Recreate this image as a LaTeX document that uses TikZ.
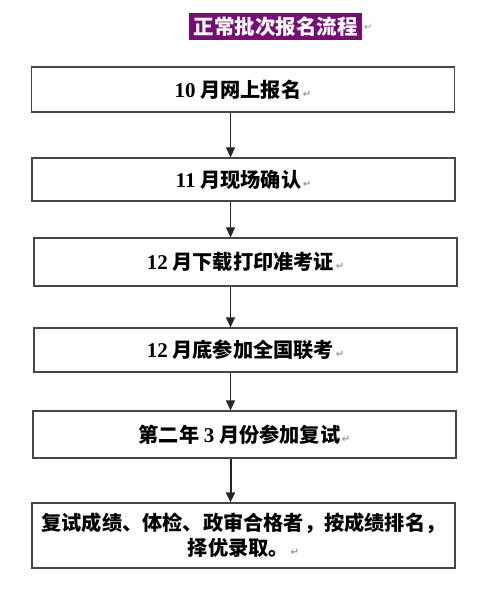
\documentclass[tikz,border=0pt]{standalone}
\usepackage{fontspec}
\usepackage{xcolor}
\usepackage{tikz}
\usetikzlibrary{arrows.meta, positioning, calc}
\newfontfamily\cjk{Noto Sans CJK SC}
\newfontfamily\numfont{Liberation Serif}
\newfontfamily\markfont{DejaVu Sans}
\definecolor{titlepurple}{RGB}{118, 12, 118}
\definecolor{boxline}{RGB}{70, 70, 70}
\definecolor{markgray}{RGB}{150, 150, 150}
\newcommand{\pmark}{{\markfont\fontsize{10}{10}\selectfont\color{markgray}\,↵}}
\newcommand{\num}[1]{{\numfont\bfseries\fontsize{21}{25}\selectfont #1}}
\tikzset{
    stagebox/.style={draw=boxline, line width=1.2pt, rectangle, minimum width=423pt, inner sep=0pt, align=center,
        font=\cjk\bfseries\fontsize{20.2}{25}\selectfont},
    titlebox/.style={rectangle, fill=titlepurple, text=white, minimum width=173pt, minimum height=27pt, inner sep=0pt,
        font=\cjk\bfseries\fontsize{20.5}{24}\selectfont},
    flowarrow/.style={-{Triangle[length=10pt, width=9pt]}, line width=1pt, draw=black!85},
    bigarrow/.style={flowarrow, line width=2pt},
}
\begin{document}
\begin{tikzpicture}[x=1pt, y=-1pt]
    \useasboundingbox (0,0) rectangle (500,602);
    % Title
    \node[titlebox] (title) at (275.5, 27) {正常批次报名流程};
    \node[anchor=west, inner sep=0pt] (titlemark) at (title.east) {\pmark};

    % Stages
    \node[stagebox, minimum height=45pt] (oct) at (243, 89.5) {\num{10} 月网上报名\pmark};
    \node[stagebox, minimum height=43pt] (nov) at (243.5, 179.5) {\num{11} 月现场确认\pmark};
    \node[stagebox, minimum height=48pt] (ticket) at (245.5, 262) {\num{12} 月下载打印准考证\pmark};
    \node[stagebox, minimum height=44pt] (exam) at (245.5, 350) {\num{12} 月底参加全国联考\pmark};
    \node[stagebox, minimum height=47pt] (retest) at (244.5, 434.5) {第二年 \num{3} 月份参加复试\pmark};
    \node[stagebox, minimum height=65pt] (admit) at (243.5, 535.5) {复试成绩、体检、政审合格者，按成绩排名，\\择优录取。\pmark};

    % Arrows
    \coordinate (ax) at (230.5, 0);
    \draw[flowarrow] (oct.south -| ax) -- (nov.north -| ax);
    \draw[flowarrow] (nov.south -| ax) -- (ticket.north -| ax);
    \draw[flowarrow] (ticket.south -| ax) -- (exam.north -| ax);
    \draw[flowarrow] (exam.south -| ax) -- (retest.north -| ax);
    \draw[bigarrow] (retest.south -| ax) -- (admit.north -| ax);
\end{tikzpicture}
\end{document}
